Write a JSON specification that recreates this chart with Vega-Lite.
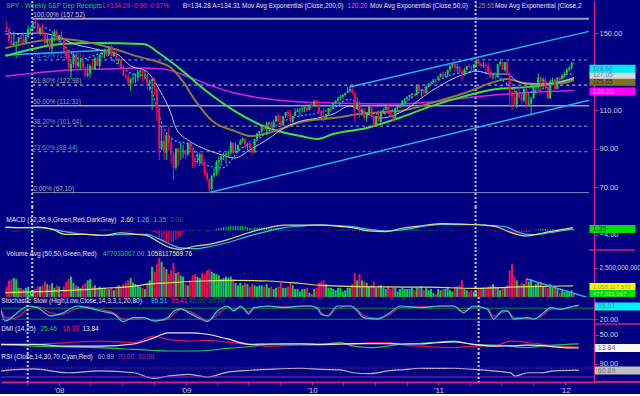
{
"$schema":"https://vega.github.io/schema/vega-lite/v6.json",
"background":"#000080",
"padding":0,
"spacing":0,
"bounds":"flush",
"config":{
 "view":{"stroke":null},
 "axis":{"grid":false,"labelFont":"Liberation Sans","labelFontSize":7.5,"labelColor":"#d0d0d8","domainColor":"#d0207f","tickColor":"#d0207f","tickSize":4,"labelPadding":1,"domainWidth":1.5,"tickWidth":1,"labelOverlap":false},
 "text":{"font":"Liberation Sans","fontSize":6.5,"align":"left","baseline":"middle"},
 "tick":{"opacity":1}
},
"datasets":{
"w":[
{"d":"2007-07-20","o":153,"h":156,"l":152,"c":152,"v":1.0,"m":0.5},
{"d":"2007-07-27","o":152,"h":153,"l":145,"c":146,"v":1.5,"m":-0.3},
{"d":"2007-08-03","o":146,"h":149,"l":143,"c":144,"v":1.6,"m":-0.8},
{"d":"2007-08-10","o":144,"h":151,"l":143,"c":145,"v":1.7,"m":-1},
{"d":"2007-08-17","o":145,"h":146,"l":137,"c":145.5,"v":1.6,"m":-1},
{"d":"2007-08-24","o":145.5,"h":148,"l":144,"c":148,"v":0.9,"m":-0.7},
{"d":"2007-08-31","o":148,"h":149,"l":144,"c":147,"v":0.9,"m":-0.4},
{"d":"2007-09-07","o":147,"h":150,"l":145,"c":145,"v":0.8,"m":-0.3},
{"d":"2007-09-14","o":145,"h":149,"l":145,"c":148,"v":0.9,"m":0.1},
{"d":"2007-09-21","o":148,"h":154,"l":148,"c":152,"v":1.0,"m":0.4},
{"d":"2007-09-28","o":152,"h":153,"l":151,"c":153,"v":0.6,"m":0.6},
{"d":"2007-10-05","o":153,"h":156,"l":152,"c":156,"v":0.7,"m":0.8},
{"d":"2007-10-12","o":156,"h":157.5,"l":154,"c":155,"v":0.8,"m":0.8},
{"d":"2007-10-19","o":155,"h":156,"l":150,"c":150,"v":1.0,"m":0.5},
{"d":"2007-10-26","o":150,"h":153,"l":149,"c":153,"v":1.0,"m":0.4},
{"d":"2007-11-02","o":153,"h":155,"l":149,"c":150,"v":1.1,"m":0.2},
{"d":"2007-11-09","o":150,"h":151,"l":144,"c":145,"v":1.4,"m":-0.3},
{"d":"2007-11-16","o":145,"h":149,"l":143,"c":146,"v":1.2,"m":-0.5},
{"d":"2007-11-23","o":146,"h":147,"l":141,"c":142,"v":1.1,"m":-0.8},
{"d":"2007-11-30","o":142,"h":149,"l":140,"c":148,"v":1.3,"m":-0.5},
{"d":"2007-12-07","o":148,"h":152,"l":146,"c":151,"v":0.9,"m":-0.2},
{"d":"2007-12-14","o":151,"h":152,"l":146,"c":147,"v":1.1,"m":-0.2},
{"d":"2007-12-21","o":147,"h":149,"l":145,"c":149,"v":1.0,"m":-0.1},
{"d":"2007-12-28","o":149,"h":151,"l":147,"c":148,"v":0.5,"m":-0.1},
{"d":"2008-01-04","o":147,"h":148,"l":140,"c":141,"v":1.0,"m":-0.5},
{"d":"2008-01-11","o":141,"h":142,"l":136,"c":138,"v":1.4,"m":-1},
{"d":"2008-01-18","o":138,"h":141,"l":131,"c":132,"v":1.6,"m":-1.5},
{"d":"2008-01-25","o":130,"h":136,"l":126,"c":134,"v":1.8,"m":-1.5},
{"d":"2008-02-01","o":134,"h":140,"l":132,"c":139,"v":1.3,"m":-1},
{"d":"2008-02-08","o":139,"h":139,"l":131,"c":133,"v":1.1,"m":-0.9},
{"d":"2008-02-15","o":133,"h":137,"l":132,"c":135,"v":1.0,"m":-0.6},
{"d":"2008-02-22","o":135,"h":137,"l":131,"c":135.5,"v":0.9,"m":-0.4},
{"d":"2008-02-29","o":135.5,"h":139,"l":131,"c":132,"v":1.1,"m":-0.4},
{"d":"2008-03-07","o":132,"h":133,"l":127,"c":128,"v":1.3,"m":-0.5},
{"d":"2008-03-14","o":128,"h":134,"l":127,"c":129,"v":1.5,"m":-0.5},
{"d":"2008-03-21","o":129,"h":134,"l":127,"c":133,"v":1.6,"m":-0.2},
{"d":"2008-03-28","o":133,"h":136,"l":131,"c":131,"v":1.0,"m":0},
{"d":"2008-04-04","o":131,"h":138,"l":131,"c":137,"v":1.1,"m":0.3},
{"d":"2008-04-11","o":137,"h":138,"l":133,"c":133,"v":0.9,"m":0.3},
{"d":"2008-04-18","o":133,"h":139,"l":131,"c":139,"v":1.0,"m":0.6},
{"d":"2008-04-25","o":139,"h":140,"l":137,"c":140,"v":0.8,"m":0.8},
{"d":"2008-05-02","o":140,"h":142,"l":137,"c":141,"v":0.9,"m":0.9},
{"d":"2008-05-09","o":141,"h":142,"l":138,"c":139,"v":0.8,"m":0.8},
{"d":"2008-05-16","o":139,"h":143,"l":139,"c":143,"v":0.8,"m":0.9},
{"d":"2008-05-23","o":143,"h":144,"l":138,"c":138,"v":0.9,"m":0.6},
{"d":"2008-05-30","o":138,"h":141,"l":138,"c":140,"v":0.7,"m":0.4},
{"d":"2008-06-06","o":140,"h":141,"l":136,"c":136,"v":1.0,"m":0.1},
{"d":"2008-06-13","o":136,"h":137,"l":134,"c":136.5,"v":1.1,"m":-0.1},
{"d":"2008-06-20","o":136.5,"h":137,"l":131,"c":132,"v":1.0,"m":-0.4},
{"d":"2008-06-27","o":132,"h":133,"l":128,"c":128,"v":1.2,"m":-0.8},
{"d":"2008-07-04","o":128,"h":129,"l":126,"c":127,"v":1.3,"m":-1},
{"d":"2008-07-11","o":127,"h":129,"l":123,"c":124,"v":1.5,"m":-1.2},
{"d":"2008-07-18","o":124,"h":127,"l":120,"c":126,"v":1.7,"m":-1},
{"d":"2008-07-25","o":126,"h":129,"l":124,"c":126.5,"v":1.3,"m":-0.7},
{"d":"2008-08-01","o":126.5,"h":129,"l":124,"c":127,"v":1.2,"m":-0.4},
{"d":"2008-08-08","o":127,"h":131,"l":125,"c":130,"v":1.1,"m":-0.1},
{"d":"2008-08-15","o":130,"h":131,"l":127,"c":130.5,"v":1.0,"m":0.1},
{"d":"2008-08-22","o":130.5,"h":131,"l":125,"c":128,"v":0.9,"m":0.1},
{"d":"2008-08-29","o":128,"h":131,"l":126,"c":128.5,"v":0.8,"m":0.1},
{"d":"2008-09-05","o":128.5,"h":130,"l":121,"c":124,"v":1.3,"m":-0.2},
{"d":"2008-09-12","o":124,"h":126,"l":120,"c":125,"v":1.5,"m":-0.5},
{"d":"2008-09-19","o":125,"h":127,"l":110,"c":126,"v":2.6,"m":-1},
{"d":"2008-09-26","o":126,"h":127,"l":118,"c":121,"v":2.2,"m":-1.5},
{"d":"2008-10-03","o":121,"h":122,"l":104,"c":111,"v":2.8,"m":-3},
{"d":"2008-10-10","o":111,"h":112,"l":84,"c":90,"v":3.3,"m":-6},
{"d":"2008-10-17","o":90,"h":102,"l":89,"c":94,"v":3.0,"m":-8},
{"d":"2008-10-24","o":94,"h":99,"l":84,"c":88,"v":2.6,"m":-10},
{"d":"2008-10-31","o":88,"h":98,"l":84,"c":97,"v":2.4,"m":-11},
{"d":"2008-11-07","o":97,"h":101,"l":89,"c":93,"v":2.0,"m":-11},
{"d":"2008-11-14","o":93,"h":96,"l":82,"c":87,"v":2.3,"m":-10},
{"d":"2008-11-21","o":87,"h":88,"l":74,"c":80,"v":2.9,"m":-10},
{"d":"2008-11-28","o":80,"h":90,"l":79,"c":90,"v":2.1,"m":-8},
{"d":"2008-12-05","o":90,"h":90.5,"l":81,"c":88,"v":2.2,"m":-6},
{"d":"2008-12-12","o":88,"h":93,"l":84,"c":88.5,"v":1.9,"m":-4},
{"d":"2008-12-19","o":88.5,"h":92,"l":85,"c":89,"v":1.8,"m":-2},
{"d":"2008-12-26","o":89,"h":89.5,"l":85,"c":87,"v":1.2,"m":-1},
{"d":"2009-01-02","o":87,"h":93,"l":86,"c":93,"v":1.1,"m":0.2},
{"d":"2009-01-09","o":93,"h":94,"l":88,"c":89,"v":1.5,"m":0.5},
{"d":"2009-01-16","o":89,"h":90,"l":80,"c":85,"v":1.9,"m":0.5},
{"d":"2009-01-23","o":85,"h":86,"l":80,"c":83,"v":2.0,"m":0.3},
{"d":"2009-01-30","o":83,"h":88,"l":82,"c":83.5,"v":1.8,"m":0.3},
{"d":"2009-02-06","o":83.5,"h":88,"l":81,"c":87,"v":1.7,"m":0.5},
{"d":"2009-02-13","o":87,"h":88,"l":81,"c":83,"v":2.1,"m":0.3},
{"d":"2009-02-20","o":83,"h":83.5,"l":76,"c":77,"v":2.0,"m":-0.3},
{"d":"2009-02-27","o":77,"h":79,"l":73,"c":74,"v":2.3,"m":-0.8},
{"d":"2009-03-06","o":74,"h":74.5,"l":67.1,"c":69,"v":2.4,"m":-1},
{"d":"2009-03-13","o":69,"h":76,"l":68,"c":76,"v":2.2,"m":-0.5},
{"d":"2009-03-20","o":76,"h":80,"l":75,"c":77,"v":2.1,"m":0.5},
{"d":"2009-03-27","o":77,"h":84,"l":76,"c":83,"v":2.0,"m":1.5},
{"d":"2009-04-03","o":83,"h":86,"l":78,"c":84,"v":1.9,"m":2},
{"d":"2009-04-10","o":84,"h":86,"l":81,"c":86,"v":1.6,"m":2.5},
{"d":"2009-04-17","o":86,"h":88,"l":84,"c":87,"v":1.7,"m":3},
{"d":"2009-04-24","o":87,"h":88,"l":82,"c":87.5,"v":1.8,"m":3.3},
{"d":"2009-05-01","o":87.5,"h":89,"l":85,"c":88,"v":1.7,"m":3.6},
{"d":"2009-05-08","o":88,"h":94,"l":87,"c":93,"v":1.8,"m":4},
{"d":"2009-05-15","o":93,"h":93.5,"l":87,"c":88,"v":1.6,"m":4},
{"d":"2009-05-22","o":88,"h":93,"l":88,"c":89,"v":1.3,"m":4},
{"d":"2009-05-29","o":89,"h":92,"l":88,"c":92,"v":1.1,"m":4},
{"d":"2009-06-05","o":92,"h":95,"l":92,"c":94,"v":1.3,"m":4},
{"d":"2009-06-12","o":94,"h":96,"l":93,"c":95,"v":1.1,"m":4},
{"d":"2009-06-19","o":95,"h":95.5,"l":90,"c":92,"v":1.3,"m":3.5},
{"d":"2009-06-26","o":92,"h":93,"l":89,"c":92.5,"v":1.2,"m":3},
{"d":"2009-07-03","o":92.5,"h":94,"l":90,"c":90,"v":1.0,"m":2.5},
{"d":"2009-07-10","o":90,"h":91,"l":87,"c":88,"v":1.2,"m":2},
{"d":"2009-07-17","o":88,"h":95,"l":88,"c":95,"v":1.1,"m":2.2},
{"d":"2009-07-24","o":95,"h":98,"l":95,"c":98,"v":1.0,"m":2.5},
{"d":"2009-07-31","o":98,"h":99,"l":96,"c":99,"v":1.1,"m":2.8},
{"d":"2009-08-07","o":99,"h":102,"l":98,"c":101,"v":1.1,"m":3},
{"d":"2009-08-14","o":101,"h":102,"l":99,"c":100,"v":1.0,"m":3},
{"d":"2009-08-21","o":100,"h":104,"l":97,"c":103,"v":1.2,"m":2.8},
{"d":"2009-08-28","o":103,"h":104,"l":102,"c":103.5,"v":0.9,"m":2.5},
{"d":"2009-09-04","o":103.5,"h":104,"l":98,"c":101,"v":1.0,"m":2},
{"d":"2009-09-11","o":101,"h":105,"l":101,"c":104,"v":0.8,"m":1.8},
{"d":"2009-09-18","o":104,"h":107,"l":104,"c":107,"v":0.9,"m":1.6},
{"d":"2009-09-25","o":107,"h":108,"l":104,"c":104,"v":1.0,"m":1.3},
{"d":"2009-10-02","o":104,"h":107,"l":101,"c":102,"v":1.3,"m":1},
{"d":"2009-10-09","o":102,"h":107,"l":102,"c":107,"v":0.9,"m":0.8},
{"d":"2009-10-16","o":107,"h":109,"l":106,"c":109,"v":0.9,"m":0.8},
{"d":"2009-10-23","o":109,"h":110,"l":106,"c":108,"v":1.0,"m":0.7},
{"d":"2009-10-30","o":108,"h":110,"l":103,"c":104,"v":1.3,"m":0.4},
{"d":"2009-11-06","o":104,"h":107,"l":103,"c":107,"v":1.1,"m":0.2},
{"d":"2009-11-13","o":107,"h":111,"l":107,"c":109,"v":0.8,"m":0.3},
{"d":"2009-11-20","o":109,"h":111,"l":109,"c":110,"v":0.8,"m":0.3},
{"d":"2009-11-27","o":110,"h":111,"l":107,"c":110.5,"v":0.6,"m":0.3},
{"d":"2009-12-04","o":110.5,"h":112,"l":109,"c":111,"v":0.8,"m":0.3},
{"d":"2009-12-11","o":111,"h":112,"l":109,"c":111.5,"v":0.8,"m":0.3},
{"d":"2009-12-18","o":111.5,"h":112,"l":109,"c":110,"v":0.9,"m":0.2},
{"d":"2009-12-25","o":110,"h":113,"l":110,"c":113,"v":0.5,"m":0.3},
{"d":"2010-01-01","o":113,"h":114,"l":111,"c":112,"v":0.4,"m":0.3},
{"d":"2010-01-08","o":112,"h":115,"l":112,"c":115,"v":0.8,"m":0.4},
{"d":"2010-01-15","o":115,"h":115.5,"l":113,"c":113,"v":0.9,"m":0.3},
{"d":"2010-01-22","o":113,"h":115,"l":108,"c":109,"v":1.3,"m":-0.2},
{"d":"2010-01-29","o":109,"h":110,"l":107,"c":107,"v":1.4,"m":-0.5},
{"d":"2010-02-05","o":107,"h":111,"l":104,"c":106,"v":1.5,"m":-0.7},
{"d":"2010-02-12","o":106,"h":108,"l":105,"c":108,"v":1.2,"m":-0.7},
{"d":"2010-02-19","o":108,"h":111,"l":107,"c":111,"v":0.9,"m":-0.5},
{"d":"2010-02-26","o":111,"h":111.5,"l":109,"c":111.2,"v":0.9,"m":-0.3},
{"d":"2010-03-05","o":111.2,"h":114,"l":111,"c":114,"v":0.8,"m":0},
{"d":"2010-03-12","o":114,"h":115,"l":113,"c":115,"v":0.7,"m":0.3},
{"d":"2010-03-19","o":115,"h":117,"l":114,"c":116,"v":0.9,"m":0.5},
{"d":"2010-03-26","o":116,"h":118,"l":115,"c":117,"v":0.9,"m":0.6},
{"d":"2010-04-02","o":117,"h":118,"l":116,"c":118,"v":0.6,"m":0.6},
{"d":"2010-04-09","o":118,"h":119,"l":117,"c":119,"v":0.7,"m":0.6},
{"d":"2010-04-16","o":119,"h":122,"l":119,"c":120,"v":0.9,"m":0.7},
{"d":"2010-04-23","o":120,"h":122,"l":119,"c":121,"v":0.9,"m":0.6},
{"d":"2010-04-30","o":121,"h":122,"l":118,"c":119,"v":1.2,"m":0.4},
{"d":"2010-05-07","o":119,"h":120,"l":104,"c":111,"v":2.1,"m":-0.4},
{"d":"2010-05-14","o":111,"h":117,"l":111,"c":114,"v":1.5,"m":-0.6},
{"d":"2010-05-21","o":114,"h":115,"l":106,"c":109,"v":2.0,"m":-1},
{"d":"2010-05-28","o":109,"h":111,"l":107,"c":110,"v":1.5,"m":-1.2},
{"d":"2010-06-04","o":110,"h":111,"l":105,"c":106,"v":1.4,"m":-1.3},
{"d":"2010-06-11","o":106,"h":109,"l":104,"c":109,"v":1.3,"m":-1.2},
{"d":"2010-06-18","o":109,"h":112,"l":108,"c":112,"v":1.0,"m":-0.9},
{"d":"2010-06-25","o":112,"h":113,"l":107,"c":107,"v":1.1,"m":-0.8},
{"d":"2010-07-02","o":107,"h":108,"l":101,"c":102,"v":1.4,"m":-1},
{"d":"2010-07-09","o":102,"h":107,"l":102,"c":107,"v":0.9,"m":-0.7},
{"d":"2010-07-16","o":107,"h":110,"l":104,"c":104,"v":1.1,"m":-0.6},
{"d":"2010-07-23","o":104,"h":110,"l":103,"c":109,"v":1.1,"m":-0.3},
{"d":"2010-07-30","o":109,"h":111,"l":108,"c":110,"v":0.9,"m":-0.1},
{"d":"2010-08-06","o":110,"h":113,"l":110,"c":112,"v":0.8,"m":0.2},
{"d":"2010-08-13","o":112,"h":113,"l":108,"c":108,"v":1.0,"m":0.2},
{"d":"2010-08-20","o":108,"h":110,"l":107,"c":107,"v":0.8,"m":0.1},
{"d":"2010-08-27","o":107,"h":108,"l":104,"c":106,"v":0.9,"m":0},
{"d":"2010-09-03","o":106,"h":111,"l":105,"c":111,"v":0.9,"m":0.1},
{"d":"2010-09-10","o":111,"h":112,"l":110,"c":111.5,"v":0.6,"m":0.2},
{"d":"2010-09-17","o":111.5,"h":113,"l":111,"c":112,"v":0.8,"m":0.4},
{"d":"2010-09-24","o":112,"h":115,"l":112,"c":115,"v":0.9,"m":0.6},
{"d":"2010-10-01","o":115,"h":116,"l":113,"c":116,"v":0.8,"m":0.8},
{"d":"2010-10-08","o":116,"h":117,"l":115,"c":117,"v":0.8,"m":0.9},
{"d":"2010-10-15","o":117,"h":118,"l":116,"c":118,"v":0.8,"m":0.9},
{"d":"2010-10-22","o":118,"h":119,"l":116,"c":118.5,"v":0.9,"m":0.9},
{"d":"2010-10-29","o":118.5,"h":119,"l":117,"c":118,"v":0.7,"m":0.8},
{"d":"2010-11-05","o":118,"h":123,"l":118,"c":123,"v":0.9,"m":0.9},
{"d":"2010-11-12","o":123,"h":123.5,"l":120,"c":120,"v":0.9,"m":0.7},
{"d":"2010-11-19","o":120,"h":121,"l":117,"c":120.5,"v":1.0,"m":0.5},
{"d":"2010-11-26","o":120.5,"h":121,"l":118,"c":119,"v":0.7,"m":0.3},
{"d":"2010-12-03","o":119,"h":123,"l":118,"c":122,"v":0.9,"m":0.3},
{"d":"2010-12-10","o":122,"h":124,"l":122,"c":124,"v":0.7,"m":0.4},
{"d":"2010-12-17","o":124,"h":125,"l":124,"c":124.5,"v":0.8,"m":0.4},
{"d":"2010-12-24","o":124.5,"h":126,"l":124,"c":126,"v":0.5,"m":0.5},
{"d":"2010-12-31","o":126,"h":126.5,"l":125,"c":125.8,"v":0.4,"m":0.5},
{"d":"2011-01-07","o":125.8,"h":128,"l":126,"c":127,"v":0.8,"m":0.4},
{"d":"2011-01-14","o":127,"h":129,"l":127,"c":129,"v":0.7,"m":0.4},
{"d":"2011-01-21","o":129,"h":130,"l":127,"c":128,"v":0.8,"m":0.3},
{"d":"2011-01-28","o":128,"h":130,"l":127,"c":128.5,"v":0.8,"m":0.3},
{"d":"2011-02-04","o":128.5,"h":131,"l":127,"c":131,"v":1.0,"m":0.3},
{"d":"2011-02-11","o":131,"h":133,"l":130,"c":133,"v":0.7,"m":0.4},
{"d":"2011-02-18","o":133,"h":134,"l":132,"c":134,"v":0.6,"m":0.4},
{"d":"2011-02-25","o":134,"h":134.5,"l":130,"c":132,"v":1.0,"m":0.2},
{"d":"2011-03-04","o":132,"h":134,"l":130,"c":132.5,"v":1.0,"m":0},
{"d":"2011-03-11","o":132.5,"h":133,"l":129,"c":130,"v":1.1,"m":-0.2},
{"d":"2011-03-18","o":130,"h":131,"l":125,"c":128,"v":1.5,"m":-0.5},
{"d":"2011-03-25","o":128,"h":132,"l":128,"c":131,"v":0.8,"m":-0.4},
{"d":"2011-04-01","o":131,"h":133,"l":131,"c":133,"v":0.7,"m":-0.2},
{"d":"2011-04-08","o":133,"h":134,"l":132,"c":132.5,"v":0.6,"m":0},
{"d":"2011-04-15","o":132.5,"h":133,"l":130,"c":132,"v":0.7,"m":0},
{"d":"2011-04-22","o":132,"h":134,"l":130,"c":134,"v":0.6,"m":0.1},
{"d":"2011-04-29","o":134,"h":136,"l":133,"c":136,"v":0.6,"m":0.3},
{"d":"2011-05-06","o":136,"h":137,"l":133,"c":134,"v":0.8,"m":0.3},
{"d":"2011-05-13","o":134,"h":135,"l":132,"c":133,"v":0.9,"m":0.2},
{"d":"2011-05-20","o":133,"h":135,"l":132,"c":133.5,"v":0.9,"m":0},
{"d":"2011-05-27","o":133.5,"h":134,"l":131,"c":133,"v":0.8,"m":-0.1},
{"d":"2011-06-03","o":133,"h":135,"l":129,"c":130,"v":1.0,"m":-0.3},
{"d":"2011-06-10","o":130,"h":131,"l":127,"c":127,"v":1.1,"m":-0.6},
{"d":"2011-06-17","o":127,"h":129,"l":126,"c":127.5,"v":1.2,"m":-0.8},
{"d":"2011-06-24","o":127.5,"h":130,"l":126,"c":127,"v":1.0,"m":-0.8},
{"d":"2011-07-01","o":127,"h":134,"l":127,"c":134,"v":0.9,"m":-0.5},
{"d":"2011-07-08","o":134,"h":136,"l":133,"c":135,"v":0.7,"m":-0.2},
{"d":"2011-07-15","o":135,"h":135.5,"l":131,"c":131,"v":0.9,"m":-0.2},
{"d":"2011-07-22","o":131,"h":135,"l":130,"c":135,"v":0.9,"m":-0.1},
{"d":"2011-07-29","o":135,"h":135.5,"l":128,"c":129,"v":1.1,"m":-0.3},
{"d":"2011-08-05","o":129,"h":130,"l":112,"c":119,"v":2.3,"m":-1.5},
{"d":"2011-08-12","o":119,"h":120,"l":110,"c":117,"v":2.8,"m":-2.5},
{"d":"2011-08-19","o":117,"h":121,"l":112,"c":113,"v":1.8,"m":-3},
{"d":"2011-08-26","o":113,"h":120,"l":111,"c":119,"v":1.5,"m":-3},
{"d":"2011-09-02","o":119,"h":123,"l":116,"c":117,"v":1.1,"m":-2.5},
{"d":"2011-09-09","o":117,"h":119,"l":113,"c":115,"v":1.3,"m":-2.2},
{"d":"2011-09-16","o":115,"h":122,"l":114,"c":121,"v":1.2,"m":-1.5},
{"d":"2011-09-23","o":121,"h":122,"l":111,"c":113,"v":1.7,"m":-1.5},
{"d":"2011-09-30","o":113,"h":119,"l":112,"c":113.5,"v":1.4,"m":-1.2},
{"d":"2011-10-07","o":113.5,"h":117,"l":107,"c":116,"v":1.6,"m":-0.8},
{"d":"2011-10-14","o":116,"h":122,"l":116,"c":122,"v":1.1,"m":0},
{"d":"2011-10-21","o":122,"h":124,"l":118,"c":124,"v":1.2,"m":0.6},
{"d":"2011-10-28","o":124,"h":129,"l":121,"c":127,"v":1.3,"m":1.2},
{"d":"2011-11-04","o":127,"h":127.5,"l":120,"c":125,"v":1.4,"m":1.5},
{"d":"2011-11-11","o":125,"h":127,"l":121,"c":126,"v":1.0,"m":1.6},
{"d":"2011-11-18","o":126,"h":127,"l":121,"c":122,"v":1.0,"m":1.4},
{"d":"2011-11-25","o":122,"h":122.5,"l":116,"c":116,"v":0.9,"m":0.8},
{"d":"2011-12-02","o":116,"h":126,"l":116,"c":125,"v":1.2,"m":1},
{"d":"2011-12-09","o":125,"h":127,"l":123,"c":126,"v":0.9,"m":1},
{"d":"2011-12-16","o":126,"h":126.5,"l":121,"c":121,"v":1.0,"m":0.6},
{"d":"2011-12-23","o":121,"h":127,"l":121,"c":127,"v":0.8,"m":0.8},
{"d":"2011-12-30","o":127,"h":127.5,"l":125,"c":126,"v":0.5,"m":0.8},
{"d":"2012-01-06","o":126,"h":129,"l":126,"c":128,"v":0.7,"m":1},
{"d":"2012-01-13","o":128,"h":130,"l":127,"c":129,"v":0.6,"m":1.1},
{"d":"2012-01-20","o":129,"h":132,"l":129,"c":131,"v":0.7,"m":1.3},
{"d":"2012-01-27","o":131,"h":133,"l":130,"c":132,"v":0.6,"m":1.4},
{"d":"2012-02-03","o":132,"h":135,"l":131,"c":134.5,"v":0.7,"m":1.4},
{"d":"2012-02-10","o":134.5,"h":135,"l":133.5,"c":134.29,"v":0.48,"m":1.35}
],
"fib":[
{"lv":"100.00% (157.52)","p":157.52},{"lv":"76.40% (136.18)","p":136.18},{"lv":"61.80% (122.98)","p":122.98},{"lv":"50.00% (112.31)","p":112.31},{"lv":"38.20% (101.64)","p":101.64},{"lv":"23.60% (88.44)","p":88.44},{"lv":"0.00% (67.10)","p":67.10}
],
"tr":[
{"id":"a","d":"2007-07-16","p":138.7},{"id":"a","d":"2008-05-20","p":141.3},
{"id":"b","d":"2009-03-06","p":67.1},{"id":"b","d":"2012-03-25","p":115.1},
{"id":"c","d":"2010-04-22","p":122.0},{"id":"c","d":"2012-03-25","p":151.0}
],
"vd":[{"d":"2007-10-03"},{"d":"2011-04-27"}],
"ma":[
{"s":"e200","d":"2007-07-16","p":127.7},{"s":"e200","d":"2008-01-27","p":130.9},{"s":"e200","d":"2008-05-01","p":131.4},{"s":"e200","d":"2008-08-05","p":131.9},{"s":"e200","d":"2008-10-21","p":131.4},{"s":"e200","d":"2009-01-07","p":127.2},{"s":"e200","d":"2009-03-15","p":122.5},{"s":"e200","d":"2009-05-20","p":118.9},{"s":"e200","d":"2009-08-26","p":115.8},{"s":"e200","d":"2009-11-30","p":114.2},{"s":"e200","d":"2010-03-05","p":113.7},{"s":"e200","d":"2010-09-14","p":113.2},{"s":"e200","d":"2010-12-18","p":114.2},{"s":"e200","d":"2011-03-26","p":116.3},{"s":"e200","d":"2011-07-28","p":118.4},{"s":"e200","d":"2012-02-10","p":120.2},
{"s":"g","d":"2007-07-16","p":138.1},{"s":"g","d":"2007-12-29","p":144.4},{"s":"g","d":"2008-03-25","p":144.9},{"s":"g","d":"2008-08-25","p":144.4},{"s":"g","d":"2008-10-13","p":139.2},{"s":"g","d":"2008-12-18","p":130.3},{"s":"g","d":"2009-02-14","p":121.5},{"s":"g","d":"2009-05-20","p":109.5},{"s":"g","d":"2009-08-26","p":100.7},{"s":"g","d":"2009-11-30","p":96.5},{"s":"g","d":"2010-01-18","p":95.0},{"s":"g","d":"2010-03-05","p":97.6},{"s":"g","d":"2010-06-11","p":100.7},{"s":"g","d":"2010-09-14","p":105.9},{"s":"g","d":"2010-12-18","p":112.1},{"s":"g","d":"2011-03-26","p":117.3},{"s":"g","d":"2011-06-29","p":121.0},{"s":"g","d":"2011-08-17","p":121.5},{"s":"g","d":"2011-10-23","p":122.5},{"s":"g","d":"2012-02-10","p":126.2},
{"s":"e50","d":"2007-07-16","p":142.3},{"s":"e50","d":"2007-12-29","p":147.0},{"s":"e50","d":"2008-05-01","p":143.4},{"s":"e50","d":"2008-08-04","p":138.1},{"s":"e50","d":"2008-11-11","p":132.4},{"s":"e50","d":"2008-12-18","p":125.1},{"s":"e50","d":"2009-01-25","p":114.7},{"s":"e50","d":"2009-03-15","p":104.3},{"s":"e50","d":"2009-05-20","p":99.1},{"s":"e50","d":"2009-07-07","p":96.5},{"s":"e50","d":"2009-08-26","p":98.1},{"s":"e50","d":"2009-10-11","p":100.7},{"s":"e50","d":"2009-11-30","p":103.8},{"s":"e50","d":"2010-03-05","p":105.9},{"s":"e50","d":"2010-06-11","p":108.5},{"s":"e50","d":"2010-09-14","p":109.5},{"s":"e50","d":"2010-12-18","p":113.7},{"s":"e50","d":"2011-03-26","p":118.9},{"s":"e50","d":"2011-06-29","p":125.1},{"s":"e50","d":"2011-07-28","p":126.2},{"s":"e50","d":"2011-09-16","p":124.1},{"s":"e50","d":"2011-10-23","p":123.6},{"s":"e50","d":"2012-01-09","p":124.1},{"s":"e50","d":"2012-02-10","p":125.65},
{"s":"e20","d":"2007-07-16","p":149.6},{"s":"e20","d":"2007-10-20","p":150.1},{"s":"e20","d":"2007-12-29","p":147.5},{"s":"e20","d":"2008-01-27","p":144.9},{"s":"e20","d":"2008-03-25","p":142.3},{"s":"e20","d":"2008-04-30","p":140.8},{"s":"e20","d":"2008-06-08","p":139.2},{"s":"e20","d":"2008-07-18","p":133.0},{"s":"e20","d":"2008-09-02","p":130.3},{"s":"e20","d":"2008-10-01","p":123.6},{"s":"e20","d":"2008-10-13","p":119.9},{"s":"e20","d":"2008-11-11","p":109.5},{"s":"e20","d":"2008-11-28","p":100.7},{"s":"e20","d":"2009-01-07","p":93.9},{"s":"e20","d":"2009-02-14","p":90.3},{"s":"e20","d":"2009-04-03","p":87.2},{"s":"e20","d":"2009-05-20","p":85.1},{"s":"e20","d":"2009-07-07","p":89.8},{"s":"e20","d":"2009-08-26","p":95.0},{"s":"e20","d":"2009-10-11","p":100.7},{"s":"e20","d":"2009-11-30","p":104.3},{"s":"e20","d":"2010-01-18","p":105.9},{"s":"e20","d":"2010-03-05","p":108.0},{"s":"e20","d":"2010-04-22","p":112.1},{"s":"e20","d":"2010-06-11","p":108.0},{"s":"e20","d":"2010-07-27","p":105.9},{"s":"e20","d":"2010-09-14","p":108.5},{"s":"e20","d":"2010-12-18","p":119.9},{"s":"e20","d":"2011-02-05","p":125.1},{"s":"e20","d":"2011-03-26","p":128.8},{"s":"e20","d":"2011-05-02","p":130.3},{"s":"e20","d":"2011-06-09","p":128.8},{"s":"e20","d":"2011-07-28","p":128.8},{"s":"e20","d":"2011-08-26","p":125.1},{"s":"e20","d":"2011-10-03","p":123.6},{"s":"e20","d":"2011-11-21","p":123.6},{"s":"e20","d":"2012-01-09","p":125.1},{"s":"e20","d":"2012-02-10","p":127.05},
{"s":"e10","d":"2007-07-16","p":151.2},{"s":"e10","d":"2007-09-13","p":149.0},{"s":"e10","d":"2007-10-20","p":153.8},{"s":"e10","d":"2007-12-08","p":149.6},{"s":"e10","d":"2008-01-06","p":143.4},{"s":"e10","d":"2008-02-24","p":136.6},{"s":"e10","d":"2008-04-30","p":139.7},{"s":"e10","d":"2008-06-07","p":134.5},{"s":"e10","d":"2008-07-18","p":129.3},{"s":"e10","d":"2008-08-25","p":127.7},{"s":"e10","d":"2008-09-23","p":117.3},{"s":"e10","d":"2008-10-21","p":101.7},{"s":"e10","d":"2008-11-28","p":93.9},{"s":"e10","d":"2009-01-07","p":92.4},{"s":"e10","d":"2009-02-14","p":82.0},{"s":"e10","d":"2009-04-13","p":80.0},{"s":"e10","d":"2009-06-09","p":90.3},{"s":"e10","d":"2009-07-07","p":92.4},{"s":"e10","d":"2009-08-26","p":99.0},{"s":"e10","d":"2009-10-11","p":104.3},{"s":"e10","d":"2009-11-30","p":107.0},{"s":"e10","d":"2010-01-18","p":108.5},{"s":"e10","d":"2010-03-05","p":111.0},{"s":"e10","d":"2010-04-22","p":115.8},{"s":"e10","d":"2010-06-11","p":108.5},{"s":"e10","d":"2010-07-27","p":108.0},{"s":"e10","d":"2010-09-14","p":112.0},{"s":"e10","d":"2010-12-18","p":123.6},{"s":"e10","d":"2011-02-05","p":127.7},{"s":"e10","d":"2011-04-24","p":130.3},{"s":"e10","d":"2011-06-29","p":127.7},{"s":"e10","d":"2011-07-28","p":123.6},{"s":"e10","d":"2011-09-04","p":118.9},{"s":"e10","d":"2011-10-23","p":120.0},{"s":"e10","d":"2011-12-11","p":123.6},{"s":"e10","d":"2012-01-27","p":128.8},{"s":"e10","d":"2012-02-10","p":128.6}
],
"mc":[
{"d":"2007-07-16","ml":3.1,"sg":2.5},{"d":"2007-09-13","ml":2.5,"sg":2.5},{"d":"2007-10-20","ml":3.1,"sg":2.5},{"d":"2007-12-08","ml":0.2,"sg":1},{"d":"2008-01-06","ml":-3.4,"sg":-1},{"d":"2008-03-12","ml":-3.4,"sg":-3.5},{"d":"2008-04-30","ml":-4.3,"sg":-4.3},{"d":"2008-06-19","ml":-2,"sg":-3.4},{"d":"2008-08-04","ml":-3.4,"sg":-3.4},{"d":"2008-09-02","ml":-4.3,"sg":-3.4},{"d":"2008-10-12","ml":-10.9,"sg":-7.9},{"d":"2008-11-11","ml":-15.3,"sg":-12.3},{"d":"2008-12-10","ml":-16.8,"sg":-15.5},{"d":"2009-01-25","ml":-13.8,"sg":-16.2},{"d":"2009-03-05","ml":-12.3,"sg":-14.5},{"d":"2009-05-02","ml":-7.9,"sg":-10.5},{"d":"2009-06-29","ml":-2,"sg":-5},{"d":"2009-08-26","ml":2.5,"sg":-0.5},{"d":"2009-10-11","ml":4.9,"sg":2.5},{"d":"2009-11-30","ml":4.9,"sg":4},{"d":"2010-01-27","ml":4.9,"sg":5},{"d":"2010-03-15","ml":4,"sg":4.5},{"d":"2010-04-30","ml":2.5,"sg":3.5},{"d":"2010-06-19","ml":-0.4,"sg":1},{"d":"2010-08-07","ml":-1,"sg":-0.4},{"d":"2010-09-23","ml":2,"sg":0.5},{"d":"2010-11-11","ml":4,"sg":3},{"d":"2011-01-17","ml":6.1,"sg":5.5},{"d":"2011-04-03","ml":5.5,"sg":5.2},{"d":"2011-05-22","ml":4.9,"sg":4.9},{"d":"2011-06-29","ml":3.1,"sg":4.2},{"d":"2011-07-28","ml":-0.4,"sg":3},{"d":"2011-08-26","ml":-3.4,"sg":-1},{"d":"2011-09-24","ml":-4.9,"sg":-3.4},{"d":"2011-10-23","ml":-3.4,"sg":-3.6},{"d":"2011-11-30","ml":-1,"sg":-2},{"d":"2012-01-09","ml":1,"sg":0},{"d":"2012-02-07","ml":2.6,"sg":1.26}
],
"va":[
{"d":"2007-07-16","va":0.51},{"d":"2007-10-20","va":0.59},{"d":"2008-01-27","va":0.70},{"d":"2008-04-30","va":0.86},{"d":"2008-08-04","va":1.05},{"d":"2008-09-02","va":1.18},{"d":"2008-11-11","va":1.31},{"d":"2009-02-14","va":1.45},{"d":"2009-05-20","va":1.5},{"d":"2009-08-26","va":1.45},{"d":"2009-11-30","va":1.25},{"d":"2010-01-27","va":1.1},{"d":"2010-08-07","va":0.97},{"d":"2010-12-10","va":0.95},{"d":"2011-04-27","va":0.86},{"d":"2011-08-26","va":0.97},{"d":"2012-02-07","va":1.058}
],
"vt":[{"d":"2011-09-24","v":1.61},{"d":"2012-03-25","v":0.08}],
"st":[
{"d":"2007-07-16","k":76,"dd":80},{"d":"2007-07-31","k":10,"dd":30},{"d":"2007-08-23","k":38,"dd":25},{"d":"2007-10-05","k":92,"dd":75},{"d":"2007-11-01","k":83,"dd":88},{"d":"2007-12-08","k":38,"dd":55},{"d":"2008-01-06","k":49,"dd":45},{"d":"2008-02-24","k":92,"dd":80},{"d":"2008-03-23","k":83,"dd":88},{"d":"2008-04-30","k":65,"dd":72},{"d":"2008-06-07","k":49,"dd":55},{"d":"2008-07-05","k":7,"dd":20},{"d":"2008-08-04","k":29,"dd":20},{"d":"2008-09-02","k":29,"dd":28},{"d":"2008-10-01","k":10,"dd":15},{"d":"2008-10-21","k":15,"dd":14},{"d":"2008-11-11","k":29,"dd":22},{"d":"2008-11-28","k":65,"dd":50},{"d":"2008-12-18","k":76,"dd":72},{"d":"2009-01-16","k":49,"dd":60},{"d":"2009-02-14","k":21,"dd":30},{"d":"2009-03-05","k":7,"dd":12},{"d":"2009-04-03","k":65,"dd":45},{"d":"2009-05-02","k":92,"dd":85},{"d":"2009-05-19","k":65,"dd":75},{"d":"2009-06-09","k":92,"dd":85},{"d":"2009-07-02","k":49,"dd":60},{"d":"2009-07-16","k":83,"dd":75},{"d":"2009-08-26","k":92,"dd":90},{"d":"2009-10-11","k":83,"dd":87},{"d":"2009-11-30","k":92,"dd":90},{"d":"2009-12-29","k":92,"dd":92},{"d":"2010-01-18","k":76,"dd":82},{"d":"2010-01-27","k":47,"dd":55},{"d":"2010-02-15","k":38,"dd":40},{"d":"2010-03-15","k":92,"dd":80},{"d":"2010-04-22","k":92,"dd":92},{"d":"2010-05-12","k":65,"dd":75},{"d":"2010-05-29","k":29,"dd":40},{"d":"2010-07-09","k":21,"dd":25},{"d":"2010-08-07","k":47,"dd":40},{"d":"2010-09-14","k":92,"dd":85},{"d":"2010-11-11","k":83,"dd":87},{"d":"2011-01-08","k":92,"dd":90},{"d":"2011-02-14","k":92,"dd":92},{"d":"2011-03-14","k":56,"dd":65},{"d":"2011-04-12","k":92,"dd":85},{"d":"2011-05-22","k":74,"dd":80},{"d":"2011-06-09","k":21,"dd":35},{"d":"2011-07-05","k":65,"dd":55},{"d":"2011-07-19","k":65,"dd":65},{"d":"2011-08-06","k":21,"dd":30},{"d":"2011-09-16","k":29,"dd":25},{"d":"2011-10-03","k":21,"dd":22},{"d":"2011-11-01","k":56,"dd":45},{"d":"2011-11-21","k":83,"dd":75},{"d":"2011-12-20","k":74,"dd":78},{"d":"2012-01-27","k":92,"dd":88},{"d":"2012-02-10","k":95.51,"dd":95.41}
],
"dm":[
{"d":"2007-07-16","a":24,"pd":24,"md":22,"r":57},{"d":"2007-10-20","a":24,"pd":19,"md":24,"r":66},{"d":"2008-01-27","a":19,"pd":17,"md":29,"r":49},{"d":"2008-04-30","a":19,"pd":15,"md":33,"r":57},{"d":"2008-08-04","a":25,"pd":10,"md":29,"r":49},{"d":"2008-10-01","a":42,"pd":7,"md":47,"r":24},{"d":"2008-11-11","a":56,"pd":5.5,"md":38,"r":34},{"d":"2009-01-08","a":56,"pd":5.5,"md":33,"r":42},{"d":"2009-03-05","a":52,"pd":7,"md":35,"r":30},{"d":"2009-05-02","a":39,"pd":13,"md":30,"r":52},{"d":"2009-07-07","a":24,"pd":18,"md":23,"r":60},{"d":"2009-08-26","a":25,"pd":24,"md":19,"r":64},{"d":"2009-11-30","a":25,"pd":26,"md":22,"r":69},{"d":"2010-01-27","a":24,"pd":24,"md":22,"r":64},{"d":"2010-03-24","a":25,"pd":29,"md":24,"r":62},{"d":"2010-04-30","a":26,"pd":19,"md":24,"r":49},{"d":"2010-06-19","a":26,"pd":15,"md":29,"r":45},{"d":"2010-08-07","a":26,"pd":19,"md":29,"r":57},{"d":"2010-09-23","a":25,"pd":25,"md":22,"r":63},{"d":"2010-11-11","a":25,"pd":27,"md":19,"r":69},{"d":"2010-12-10","a":27,"pd":29,"md":17,"r":68},{"d":"2011-02-14","a":31,"pd":33,"md":15,"r":69},{"d":"2011-04-12","a":24,"pd":24,"md":19,"r":64},{"d":"2011-06-09","a":19,"pd":22,"md":19,"r":57},{"d":"2011-07-28","a":20,"pd":19,"md":33,"r":48},{"d":"2011-08-10","a":20,"pd":17,"md":33,"r":34},{"d":"2011-09-16","a":22,"pd":15,"md":29,"r":49},{"d":"2011-10-23","a":21,"pd":19,"md":25,"r":49},{"d":"2011-11-30","a":17,"pd":22,"md":19,"r":57},{"d":"2012-02-10","a":13.84,"pd":25.46,"md":16.93,"r":60.89}
]
},
"vconcat":[
{
 "width":593,"height":206,
 "resolve":{"scale":{"color":"independent","stroke":"independent","strokeDash":"independent","strokeWidth":"independent"}},
 "layer":[
  {"data":{"name":"vd"},"mark":{"type":"rule","color":"#c8c8d8","strokeWidth":2,"strokeDash":[2,2]},"encoding":{"x":{"field":"d","type":"temporal","scale":{"type":"utc","domain":[{"year":2007,"month":7,"date":18,"utc":true},{"year":2012,"month":3,"date":25,"utc":true}]},"axis":null}}},
  {"data":{"name":"fib"},"mark":{"type":"rule"},"encoding":{
    "x":{"datum":{"year":2007,"month":10,"date":3,"utc":true},"type":"temporal","axis":null},
    "x2":{"datum":{"year":2012,"month":3,"date":25,"utc":true}},
    "y":{"field":"p","type":"quantitative","scale":{"domain":[59.6,166.8],"nice":false,"zero":false},"axis":{"orient":"right","values":[70,80,90,100,110,140,150,160],"format":".2f","title":null}},
    "stroke":{"field":"lv","type":"nominal","scale":{"domain":["100.00% (157.52)","76.40% (136.18)","61.80% (122.98)","50.00% (112.31)","38.20% (101.64)","23.60% (88.44)","0.00% (67.10)"],"range":["#9c9cc4","#3c6cb0","#7c7c9c","#a0a0b0","#6c7ca0","#3090a8","#9c9cc4"]},"legend":null},
    "strokeDash":{"field":"lv","type":"nominal","scale":{"domain":["100.00% (157.52)","76.40% (136.18)","61.80% (122.98)","50.00% (112.31)","38.20% (101.64)","23.60% (88.44)","0.00% (67.10)"],"range":[[1,0],[3,3],[3,3],[1,0],[3,3],[3,3],[1,0]]},"legend":null},
    "strokeWidth":{"field":"lv","type":"nominal","scale":{"domain":["100.00% (157.52)","76.40% (136.18)","61.80% (122.98)","50.00% (112.31)","38.20% (101.64)","23.60% (88.44)","0.00% (67.10)"],"range":[2,1,1,1.5,1,1,2]},"legend":null}
  }},
  {"data":{"name":"fib"},"mark":{"type":"text","baseline":"bottom","dy":-1},"encoding":{
    "x":{"datum":{"year":2007,"month":10,"date":6,"utc":true},"type":"temporal","axis":null},
    "y":{"field":"p","type":"quantitative","title":null},
    "text":{"field":"lv"},
    "color":{"field":"lv","type":"nominal","scale":{"domain":["100.00% (157.52)","76.40% (136.18)","61.80% (122.98)","50.00% (112.31)","38.20% (101.64)","23.60% (88.44)","0.00% (67.10)"],"range":["#c8c8d8","#4c7cc0","#a0a0a8","#a0a0a8","#8c8ca8","#40a0b0","#b0b0b8"]},"legend":null}
  }},
  {"data":{"name":"tr"},"mark":{"type":"line","color":"#22b4e6","strokeWidth":1.5,"clip":true},"encoding":{"x":{"field":"d","type":"temporal","axis":null},"y":{"field":"p","type":"quantitative","title":null},"detail":{"field":"id"}}},
  {"data":{"name":"ma"},"transform":[{"filter":"datum.s == 'e200'"}],"mark":{"type":"line","color":"#e020e0","strokeWidth":1.5,"interpolate":"monotone","clip":true},"encoding":{"x":{"field":"d","type":"temporal","axis":null},"y":{"field":"p","type":"quantitative","title":null}}},
  {"data":{"name":"ma"},"transform":[{"filter":"datum.s == 'g'"}],"mark":{"type":"line","color":"#38e838","strokeWidth":2,"interpolate":"monotone","clip":true},"encoding":{"x":{"field":"d","type":"temporal","axis":null},"y":{"field":"p","type":"quantitative","title":null}}},
  {"data":{"name":"ma"},"transform":[{"filter":"datum.s == 'e50'"}],"mark":{"type":"line","color":"#8c7c30","strokeWidth":2,"interpolate":"monotone","clip":true},"encoding":{"x":{"field":"d","type":"temporal","axis":null},"y":{"field":"p","type":"quantitative","title":null}}},
  {"data":{"name":"ma"},"transform":[{"filter":"datum.s == 'e20'"}],"mark":{"type":"line","color":"#c8c4dc","strokeWidth":1,"interpolate":"monotone","clip":true},"encoding":{"x":{"field":"d","type":"temporal","axis":null},"y":{"field":"p","type":"quantitative","title":null}}},
  {"data":{"name":"ma"},"transform":[{"filter":"datum.s == 'e10'"}],"mark":{"type":"line","color":"#28c0e8","strokeWidth":1.2,"strokeDash":[2,2],"interpolate":"monotone","clip":true},"encoding":{"x":{"field":"d","type":"temporal","axis":null},"y":{"field":"p","type":"quantitative","title":null}}},
  {"data":{"name":"w"},"mark":{"type":"rule","strokeWidth":1},"encoding":{"x":{"field":"d","type":"temporal","axis":null},"y":{"field":"l","type":"quantitative","title":null},"y2":{"field":"h"},"color":{"condition":{"test":"datum.c >= datum.o","value":"#14d048"},"value":"#f41050"}}},
  {"data":{"name":"w"},"mark":{"type":"bar","size":2},"encoding":{"x":{"field":"d","type":"temporal","axis":null},"y":{"field":"o","type":"quantitative","title":null},"y2":{"field":"c"},"color":{"condition":{"test":"datum.c >= datum.o","value":"#14d048"},"value":"#f41050"}}},
  {"data":{"values":[{}]},"mark":{"type":"text","color":"#20d040"},"encoding":{"x":{"datum":{"year":2007,"month":7,"date":19,"utc":true},"type":"temporal","axis":null},"y":{"datum":164.2},"text":{"value":"SPY - Weekly  S&P Dep Receipts"}}},
  {"data":{"values":[{}]},"mark":{"type":"text","color":"#ff2050"},"encoding":{"x":{"datum":{"year":2008,"month":4,"date":27,"utc":true},"type":"temporal","axis":null},"y":{"datum":164.2},"text":{"value":"L=134.29   -0.90   -0.67%"}}},
  {"data":{"values":[{}]},"mark":{"type":"text","color":"#e0e0e8"},"encoding":{"x":{"datum":{"year":2008,"month":12,"date":18,"utc":true},"type":"temporal","axis":null},"y":{"datum":164.2},"text":{"value":"B=134.28   A=134.31   Mov Avg Exponential (Close,200,0)"}}},
  {"data":{"values":[{}]},"mark":{"type":"text","color":"#ff40ff"},"encoding":{"x":{"datum":{"year":2010,"month":4,"date":16,"utc":true},"type":"temporal","axis":null},"y":{"datum":164.2},"text":{"value":"120.20"}}},
  {"data":{"values":[{}]},"mark":{"type":"text","color":"#e0e0e8"},"encoding":{"x":{"datum":{"year":2010,"month":6,"date":21,"utc":true},"type":"temporal","axis":null},"y":{"datum":164.2},"text":{"value":"Mov Avg Exponential (Close,50,0)"}}},
  {"data":{"values":[{}]},"mark":{"type":"text","color":"#a09040"},"encoding":{"x":{"datum":{"year":2011,"month":4,"date":24,"utc":true},"type":"temporal","axis":null},"y":{"datum":164.2},"text":{"value":"125.65"}}},
  {"data":{"values":[{}]},"mark":{"type":"text","color":"#e0e0e8"},"encoding":{"x":{"datum":{"year":2011,"month":6,"date":23,"utc":true},"type":"temporal","axis":null},"y":{"datum":164.2},"text":{"value":"Mov Avg Exponential (Close,2"}}},
  {"data":{"values":[{}]},"mark":{"type":"tick","orient":"horizontal","color":"#ff00ff","size":46,"thickness":8},"encoding":{"x":{"datum":{"year":2012,"month":6,"date":2,"utc":true},"type":"temporal","axis":null},"y":{"datum":119.7}}},
  {"data":{"values":[{}]},"mark":{"type":"text","color":"#ffa0ff","fontSize":7},"encoding":{"x":{"datum":{"year":2012,"month":4,"date":5,"utc":true},"type":"temporal","axis":null},"y":{"datum":119.7},"text":{"value":"120.20"}}},
  {"data":{"values":[{}]},"mark":{"type":"tick","orient":"horizontal","color":"#807024","size":46,"thickness":8},"encoding":{"x":{"datum":{"year":2012,"month":6,"date":2,"utc":true},"type":"temporal","axis":null},"y":{"datum":124.8}}},
  {"data":{"values":[{}]},"mark":{"type":"text","color":"#202050","fontSize":6.5},"encoding":{"x":{"datum":{"year":2012,"month":4,"date":5,"utc":true},"type":"temporal","axis":null},"y":{"datum":124.8},"text":{"value":"125.65"}}},
  {"data":{"values":[{}]},"mark":{"type":"tick","orient":"horizontal","color":"#d8d8d8","size":46,"thickness":7},"encoding":{"x":{"datum":{"year":2012,"month":6,"date":2,"utc":true},"type":"temporal","axis":null},"y":{"datum":128.2}}},
  {"data":{"values":[{}]},"mark":{"type":"text","color":"#7070a0","fontSize":6.5},"encoding":{"x":{"datum":{"year":2012,"month":4,"date":5,"utc":true},"type":"temporal","axis":null},"y":{"datum":128.2},"text":{"value":"127.05"}}},
  {"data":{"values":[{}]},"mark":{"type":"tick","orient":"horizontal","color":"#00e8f8","size":46,"thickness":8},"encoding":{"x":{"datum":{"year":2012,"month":6,"date":2,"utc":true},"type":"temporal","axis":null},"y":{"datum":131.6}}},
  {"data":{"values":[{}]},"mark":{"type":"text","color":"#4888b0","fontSize":6.5},"encoding":{"x":{"datum":{"year":2012,"month":4,"date":5,"utc":true},"type":"temporal","axis":null},"y":{"datum":131.6},"text":{"value":"128.60"}}}
 ]
},
{
 "width":593,"height":43,
 "layer":[
  {"data":{"name":"w"},"mark":{"type":"bar","size":1.2,"clip":true},"encoding":{"x":{"field":"d","type":"temporal","scale":{"type":"utc","domain":[{"year":2007,"month":7,"date":18,"utc":true},{"year":2012,"month":3,"date":25,"utc":true}]},"axis":null},"y":{"field":"m","type":"quantitative","scale":{"domain":[-17.4,21],"nice":false,"zero":false},"axis":{"orient":"right","values":[-4],"format":".2f","title":null}},"y2":{"datum":0},"color":{"condition":{"test":"datum.m >= 0","value":"#10c040"},"value":"#e01050"}}},
  {"data":{"name":"mc"},"mark":{"type":"line","color":"#30c8e8","strokeWidth":1.2,"interpolate":"monotone","clip":true},"encoding":{"x":{"field":"d","type":"temporal","axis":null},"y":{"field":"sg","type":"quantitative","title":null}}},
  {"data":{"name":"mc"},"mark":{"type":"line","color":"#e4dc78","strokeWidth":1.2,"interpolate":"monotone","clip":true},"encoding":{"x":{"field":"d","type":"temporal","axis":null},"y":{"field":"ml","type":"quantitative","title":null}}},
  {"data":{"name":"vd"},"mark":{"type":"rule","color":"#c8c8d8","strokeWidth":2,"strokeDash":[2,2]},"encoding":{"x":{"field":"d","type":"temporal","axis":null}}},
  {"data":{"values":[{}]},"mark":{"type":"text","color":"#e0e0e8"},"encoding":{"x":{"datum":{"year":2007,"month":7,"date":19,"utc":true},"type":"temporal","axis":null},"y":{"datum":9.4},"text":{"value":"MACD (12,26,9,Green,Red,DarkGray)"}}},
  {"data":{"values":[{}]},"mark":{"type":"text","color":"#e8e070"},"encoding":{"x":{"datum":{"year":2008,"month":6,"date":19,"utc":true},"type":"temporal","axis":null},"y":{"datum":9.4},"text":{"value":"2.60"}}},
  {"data":{"values":[{}]},"mark":{"type":"text","color":"#40d0f0"},"encoding":{"x":{"datum":{"year":2008,"month":8,"date":4,"utc":true},"type":"temporal","axis":null},"y":{"datum":9.4},"text":{"value":"1.26"}}},
  {"data":{"values":[{}]},"mark":{"type":"text","color":"#20d040"},"encoding":{"x":{"datum":{"year":2008,"month":9,"date":23,"utc":true},"type":"temporal","axis":null},"y":{"datum":9.4},"text":{"value":"1.35"}}},
  {"data":{"values":[{}]},"mark":{"type":"text","color":"#2c6c48"},"encoding":{"x":{"datum":{"year":2008,"month":11,"date":11,"utc":true},"type":"temporal","axis":null},"y":{"datum":9.4},"text":{"value":"0.00"}}},
  {"data":{"values":[{}]},"mark":{"type":"tick","orient":"horizontal","color":"#00e000","size":46,"thickness":8},"encoding":{"x":{"datum":{"year":2012,"month":6,"date":2,"utc":true},"type":"temporal","axis":null},"y":{"datum":1.35}}},
  {"data":{"values":[{}]},"mark":{"type":"text","color":"#205020","fontSize":7},"encoding":{"x":{"datum":{"year":2012,"month":4,"date":5,"utc":true},"type":"temporal","axis":null},"y":{"datum":1.35},"text":{"value":"1.35"}}}
 ]
},
{
 "width":593,"height":47,
 "layer":[
  {"data":{"name":"w"},"mark":{"type":"bar","size":2,"clip":true},"encoding":{"x":{"field":"d","type":"temporal","scale":{"type":"utc","domain":[{"year":2007,"month":7,"date":18,"utc":true},{"year":2012,"month":3,"date":25,"utc":true}]},"axis":null},"y":{"field":"v","type":"quantitative","scale":{"domain":[0.16,3.95],"nice":false,"zero":false},"axis":{"orient":"right","values":[2.5],"labelExpr":"format(datum.value*1e9, ',')","labelFontSize":6.5,"title":null}},"y2":{"datum":0},"color":{"condition":{"test":"datum.c >= datum.o","value":"#14d048"},"value":"#f41050"}}},
  {"data":{"name":"va"},"mark":{"type":"line","color":"#e8e060","strokeWidth":1.2,"interpolate":"monotone","clip":true},"encoding":{"x":{"field":"d","type":"temporal","axis":null},"y":{"field":"va","type":"quantitative","title":null}}},
  {"data":{"name":"vt"},"mark":{"type":"line","color":"#22b4e6","strokeWidth":1.5,"clip":true},"encoding":{"x":{"field":"d","type":"temporal","axis":null},"y":{"field":"v","type":"quantitative","title":null}}},
  {"data":{"name":"vd"},"mark":{"type":"rule","color":"#c8c8d8","strokeWidth":2,"strokeDash":[2,2]},"encoding":{"x":{"field":"d","type":"temporal","axis":null}}},
  {"data":{"values":[{}]},"mark":{"type":"rule","color":"#d0207f","strokeWidth":1.5},"encoding":{"x":{"datum":{"year":2012,"month":3,"date":25,"utc":true},"type":"temporal","axis":null},"x2":{"datum":{"year":2012,"month":8,"date":7,"utc":true}},"y":{"datum":3.95}}},
  {"data":{"values":[{}]},"mark":{"type":"text","color":"#e0e0e8"},"encoding":{"x":{"datum":{"year":2007,"month":7,"date":19,"utc":true},"type":"temporal","axis":null},"y":{"datum":3.63},"text":{"value":"Volume Avg (50,50,Green,Red)"}}},
  {"data":{"values":[{}]},"mark":{"type":"text","color":"#20d040"},"encoding":{"x":{"datum":{"year":2008,"month":4,"date":27,"utc":true},"type":"temporal","axis":null},"y":{"datum":3.63},"text":{"value":"477033067.00"}}},
  {"data":{"values":[{}]},"mark":{"type":"text","color":"#f0f060"},"encoding":{"x":{"datum":{"year":2008,"month":9,"date":5,"utc":true},"type":"temporal","axis":null},"y":{"datum":3.63},"text":{"value":"1058117569.76"}}},
  {"data":{"values":[{}]},"mark":{"type":"tick","orient":"horizontal","color":"#f8f800","size":46,"thickness":7},"encoding":{"x":{"datum":{"year":2012,"month":6,"date":2,"utc":true},"type":"temporal","axis":null},"y":{"datum":1.0}}},
  {"data":{"values":[{}]},"mark":{"type":"text","color":"#a0a050","fontSize":6},"encoding":{"x":{"datum":{"year":2012,"month":4,"date":5,"utc":true},"type":"temporal","axis":null},"y":{"datum":1.0},"text":{"value":"1,058,117,570"}}},
  {"data":{"values":[{}]},"mark":{"type":"tick","orient":"horizontal","color":"#00e000","size":46,"thickness":7},"encoding":{"x":{"datum":{"year":2012,"month":6,"date":2,"utc":true},"type":"temporal","axis":null},"y":{"datum":0.44}}},
  {"data":{"values":[{}]},"mark":{"type":"text","color":"#a0f0a0","fontSize":6},"encoding":{"x":{"datum":{"year":2012,"month":4,"date":5,"utc":true},"type":"temporal","axis":null},"y":{"datum":0.44},"text":{"value":"477,033,067"}}}
 ]
},
{
 "width":593,"height":27,
 "layer":[
  {"data":{"name":"st"},"mark":{"type":"line","color":"#e01850","strokeWidth":1.2,"interpolate":"monotone","clip":true},"encoding":{"x":{"field":"d","type":"temporal","scale":{"type":"utc","domain":[{"year":2007,"month":7,"date":18,"utc":true},{"year":2012,"month":3,"date":25,"utc":true}]},"axis":null},"y":{"field":"dd","type":"quantitative","scale":{"domain":[-6,141],"nice":false,"zero":false},"axis":{"orient":"right","values":[20],"format":".2f","title":null}}}},
  {"data":{"values":[{}]},"mark":{"type":"rule","color":"#108a34","strokeWidth":1},"encoding":{"y":{"datum":80}}},
  {"data":{"values":[{}]},"mark":{"type":"rule","color":"#108a34","strokeWidth":1},"encoding":{"y":{"datum":20}}},
  {"data":{"name":"st"},"mark":{"type":"line","color":"#30d0e8","strokeWidth":1.2,"interpolate":"monotone","clip":true},"encoding":{"x":{"field":"d","type":"temporal","axis":null},"y":{"field":"k","type":"quantitative","title":null}}},
  {"data":{"name":"vd"},"mark":{"type":"rule","color":"#c8c8d8","strokeWidth":2,"strokeDash":[2,2]},"encoding":{"x":{"field":"d","type":"temporal","axis":null}}},
  {"data":{"values":[{}]},"mark":{"type":"text","color":"#e0e0e8"},"encoding":{"x":{"datum":{"year":2007,"month":7,"date":19,"utc":true},"type":"temporal","axis":null},"y":{"datum":119},"text":{"value":"Stochastic Slow (High,Low,Close,14,3,3,1,20,80)"}}},
  {"data":{"values":[{}]},"mark":{"type":"text","color":"#30d0e8"},"encoding":{"x":{"datum":{"year":2008,"month":9,"date":23,"utc":true},"type":"temporal","axis":null},"y":{"datum":119},"text":{"value":"95.51"}}},
  {"data":{"values":[{}]},"mark":{"type":"text","color":"#ff2060"},"encoding":{"x":{"datum":{"year":2008,"month":11,"date":20,"utc":true},"type":"temporal","axis":null},"y":{"datum":119},"text":{"value":"95.41"}}},
  {"data":{"values":[{}]},"mark":{"type":"text","color":"#1a7a3a"},"encoding":{"x":{"datum":{"year":2009,"month":1,"date":11,"utc":true},"type":"temporal","axis":null},"y":{"datum":119},"text":{"value":"80.00"}}},
  {"data":{"values":[{}]},"mark":{"type":"text","color":"#1a7a3a"},"encoding":{"x":{"datum":{"year":2009,"month":3,"date":8,"utc":true},"type":"temporal","axis":null},"y":{"datum":119},"text":{"value":"20.00"}}},
  {"data":{"values":[{}]},"mark":{"type":"tick","orient":"horizontal","color":"#00f0f8","size":46,"thickness":8},"encoding":{"x":{"datum":{"year":2012,"month":6,"date":2,"utc":true},"type":"temporal","axis":null},"y":{"datum":89.6}}},
  {"data":{"values":[{}]},"mark":{"type":"text","color":"#5090b0","fontSize":7},"encoding":{"x":{"datum":{"year":2012,"month":4,"date":5,"utc":true},"type":"temporal","axis":null},"y":{"datum":89.6},"text":{"value":"95.51"}}}
 ]
},
{
 "width":593,"height":29,
 "layer":[
  {"data":{"name":"dm"},"mark":{"type":"line","color":"#e01850","strokeWidth":1.2,"interpolate":"monotone","clip":true},"encoding":{"x":{"field":"d","type":"temporal","scale":{"type":"utc","domain":[{"year":2007,"month":7,"date":18,"utc":true},{"year":2012,"month":3,"date":25,"utc":true}]},"axis":null},"y":{"field":"md","type":"quantitative","scale":{"domain":[0,80.5],"nice":false,"zero":false},"axis":{"orient":"right","values":[50],"format":".2f","title":null}}}},
  {"data":{"name":"dm"},"mark":{"type":"line","color":"#20d040","strokeWidth":1.2,"interpolate":"monotone","clip":true},"encoding":{"x":{"field":"d","type":"temporal","axis":null},"y":{"field":"pd","type":"quantitative","title":null}}},
  {"data":{"name":"dm"},"mark":{"type":"line","color":"#e8e8f0","strokeWidth":1.2,"interpolate":"monotone","clip":true},"encoding":{"x":{"field":"d","type":"temporal","axis":null},"y":{"field":"a","type":"quantitative","title":null}}},
  {"data":{"name":"vd"},"mark":{"type":"rule","color":"#c8c8d8","strokeWidth":2,"strokeDash":[2,2]},"encoding":{"x":{"field":"d","type":"temporal","axis":null}}},
  {"data":{"values":[{}]},"mark":{"type":"rule","color":"#d0207f","strokeWidth":1.5},"encoding":{"x":{"datum":{"year":2012,"month":3,"date":25,"utc":true},"type":"temporal","axis":null},"x2":{"datum":{"year":2012,"month":8,"date":7,"utc":true}},"y":{"datum":80.5}}},
  {"data":{"values":[{}]},"mark":{"type":"text","color":"#e0e0e8"},"encoding":{"x":{"datum":{"year":2007,"month":7,"date":19,"utc":true},"type":"temporal","axis":null},"y":{"datum":66.6},"text":{"value":"DMI (14,25)"}}},
  {"data":{"values":[{}]},"mark":{"type":"text","color":"#20d040"},"encoding":{"x":{"datum":{"year":2007,"month":11,"date":9,"utc":true},"type":"temporal","axis":null},"y":{"datum":66.6},"text":{"value":"25.46"}}},
  {"data":{"values":[{}]},"mark":{"type":"text","color":"#ff2060"},"encoding":{"x":{"datum":{"year":2008,"month":1,"date":12,"utc":true},"type":"temporal","axis":null},"y":{"datum":66.6},"text":{"value":"16.93"}}},
  {"data":{"values":[{}]},"mark":{"type":"text","color":"#e8e8f0"},"encoding":{"x":{"datum":{"year":2008,"month":3,"date":9,"utc":true},"type":"temporal","axis":null},"y":{"datum":66.6},"text":{"value":"13.84"}}},
  {"data":{"values":[{}]},"mark":{"type":"tick","orient":"horizontal","color":"#f8f8f8","size":46,"thickness":8},"encoding":{"x":{"datum":{"year":2012,"month":6,"date":2,"utc":true},"type":"temporal","axis":null},"y":{"datum":13.9}}},
  {"data":{"values":[{}]},"mark":{"type":"text","color":"#6060a0","fontSize":7},"encoding":{"x":{"datum":{"year":2012,"month":4,"date":5,"utc":true},"type":"temporal","axis":null},"y":{"datum":13.9},"text":{"value":"13.84"}}}
 ]
},
{
 "width":593,"height":29,
 "layer":[
  {"data":{"name":"dm"},"mark":{"type":"line","color":"#b8b8c8","strokeWidth":1.2,"interpolate":"monotone","clip":true},"encoding":{"x":{"field":"d","type":"temporal","scale":{"type":"utc","domain":[{"year":2007,"month":7,"date":18,"utc":true},{"year":2012,"month":3,"date":25,"utc":true}]},"axis":{"orient":"bottom","title":null,"domainWidth":2,"tickSize":3,"labelFontSize":8,"labelColor":"#c8c8d0","labelPadding":1,"labelFlush":false,"labelOverlap":false,"tickCount":{"interval":"month","step":3},"labelExpr":"utcmonth(datum.value) == 0 ? \"'\" + utcFormat(datum.value, '%y') : ''"}},"y":{"field":"r","type":"quantitative","scale":{"domain":[7.8,136.7],"nice":false,"zero":false},"axis":{"orient":"right","values":[90],"format":".2f","title":null}}}},
  {"data":{"values":[{}]},"mark":{"type":"rule","color":"#a040b0","strokeWidth":1,"strokeDash":[1,2]},"encoding":{"y":{"datum":70}}},
  {"data":{"values":[{}]},"mark":{"type":"rule","color":"#8030a0","strokeWidth":1},"encoding":{"y":{"datum":30}}},
  {"data":{"name":"vd"},"mark":{"type":"rule","color":"#c8c8d8","strokeWidth":2,"strokeDash":[2,2]},"encoding":{"x":{"field":"d","type":"temporal","title":null}}},
  {"data":{"values":[{}]},"mark":{"type":"rule","color":"#d0207f","strokeWidth":2},"encoding":{"x":{"datum":{"year":2012,"month":3,"date":25,"utc":true},"type":"temporal"},"x2":{"datum":{"year":2012,"month":8,"date":7,"utc":true}},"y":{"datum":7.8}}},
  {"data":{"values":[{}]},"mark":{"type":"text","color":"#e0e0e8"},"encoding":{"x":{"datum":{"year":2007,"month":7,"date":19,"utc":true},"type":"temporal"},"y":{"datum":118.9},"text":{"value":"RSI (Close,14,30,70,Cyan,Red)"}}},
  {"data":{"values":[{}]},"mark":{"type":"text","color":"#a8a8b8"},"encoding":{"x":{"datum":{"year":2008,"month":4,"date":22,"utc":true},"type":"temporal"},"y":{"datum":118.9},"text":{"value":"60.89"}}},
  {"data":{"values":[{}]},"mark":{"type":"text","color":"#a040a0"},"encoding":{"x":{"datum":{"year":2008,"month":6,"date":19,"utc":true},"type":"temporal"},"y":{"datum":118.9},"text":{"value":"70.00"}}},
  {"data":{"values":[{}]},"mark":{"type":"text","color":"#a040a0"},"encoding":{"x":{"datum":{"year":2008,"month":8,"date":16,"utc":true},"type":"temporal"},"y":{"datum":118.9},"text":{"value":"30.00"}}},
  {"data":{"values":[{}]},"mark":{"type":"tick","orient":"horizontal","color":"#c0c0c0","size":46,"thickness":8},"encoding":{"x":{"datum":{"year":2012,"month":6,"date":2,"utc":true},"type":"temporal"},"y":{"datum":58.9}}},
  {"data":{"values":[{}]},"mark":{"type":"text","color":"#707078","fontSize":7},"encoding":{"x":{"datum":{"year":2012,"month":4,"date":5,"utc":true},"type":"temporal"},"y":{"datum":58.9},"text":{"value":"60.89"}}}
 ]
}
]
}
